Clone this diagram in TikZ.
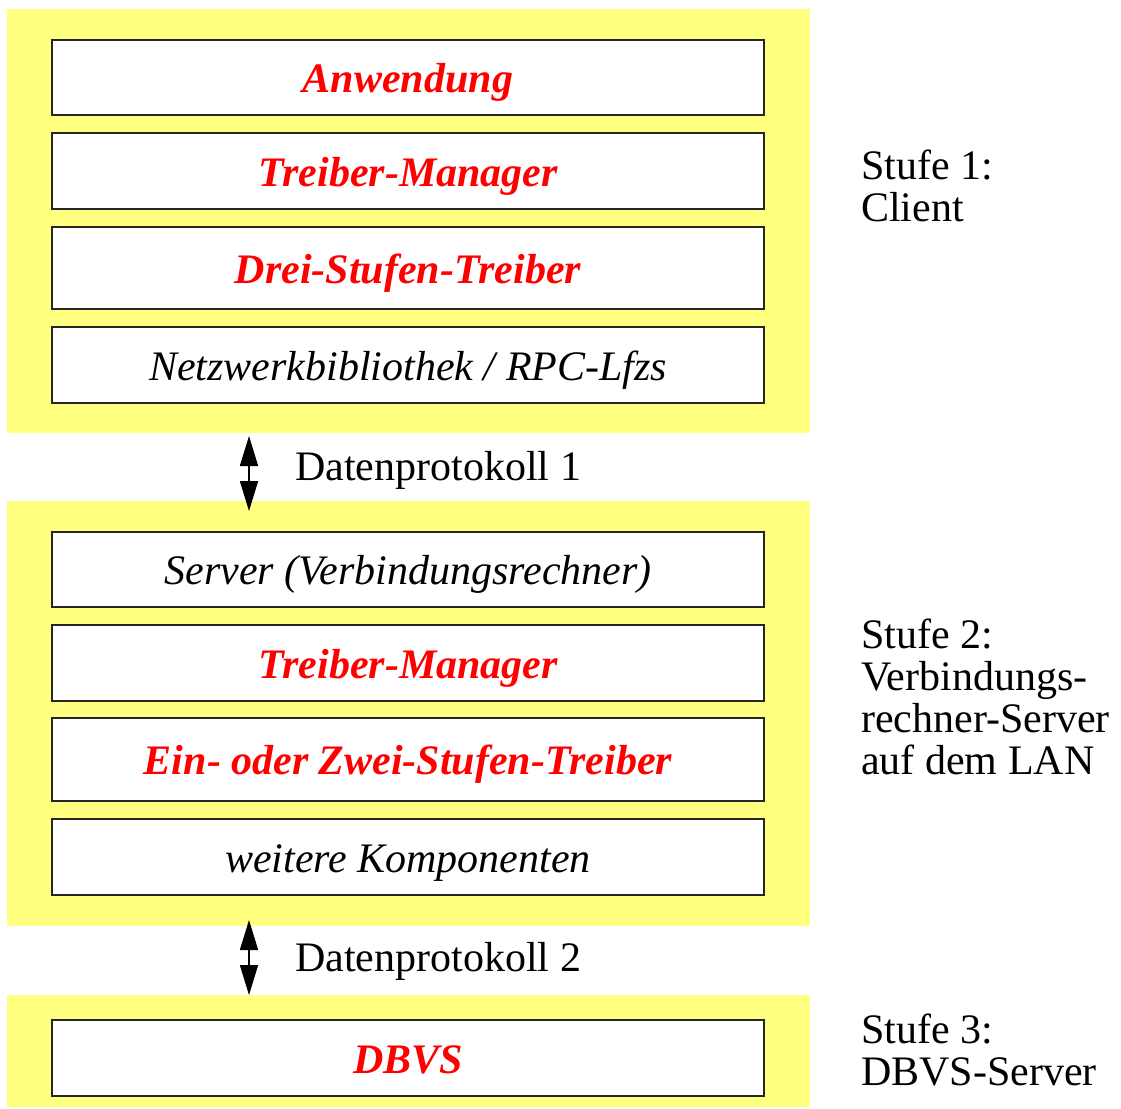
\documentclass[tikz,border=0pt]{standalone}
\usepackage{fontspec}
\setmainfont{Liberation Serif}
\usetikzlibrary{arrows.meta}
\definecolor{panelyellow}{RGB}{255,255,128}
\definecolor{labelred}{RGB}{255,0,0}
\tikzset{
  panel/.style={fill=panelyellow, draw=none},
  layerbox/.style={draw=black!85, line width=1.6pt, fill=white, rectangle,
    minimum width=712pt, minimum height=75pt, inner sep=0pt,
    text height=31pt, text depth=1pt,
    font=\fontsize{42}{42}\selectfont},
  keylayer/.style={layerbox, text=labelred, font=\fontsize{42}{42}\selectfont\bfseries\itshape},
  plainlayer/.style={layerbox, font=\fontsize{42}{42}\selectfont\itshape},
  sidetext/.style={anchor=base west, inner sep=0pt, font=\fontsize{42}{42}\selectfont},
  dblarrow/.style={line width=1.6pt, {Triangle[length=30pt,width=18pt]}-{Triangle[length=30pt,width=18pt]}}
}
\begin{document}
\begin{tikzpicture}[x=1pt,y=-1pt]
\useasboundingbox (0,0) rectangle (1121,1108);
% panels
\fill[panel] (7,9) rectangle (810,433);
\fill[panel] (7,501) rectangle (810,925.5);
\fill[panel] (7,995) rectangle (810,1107);
% level 1
\node[keylayer, minimum height=75pt] (anw) at (408,77.5) {Anwendung};
\node[keylayer, minimum height=76pt] (tm1) at (408,171) {Treiber-Manager};
\node[keylayer, minimum height=82pt] (dst) at (408,268) {Drei-Stufen-Treiber};
\node[plainlayer, minimum height=76pt] (net) at (408,365) {Netzwerkbibliothek / RPC-Lfzs};
% level 2
\node[plainlayer, minimum height=75pt] (srv) at (408,569.5) {Server (Verbindungsrechner)};
\node[keylayer, minimum height=76pt] (tm2) at (408,663) {Treiber-Manager};
\node[keylayer, minimum height=83pt] (ezt) at (408,759.5) {Ein- oder Zwei-Stufen-Treiber};
\node[plainlayer, minimum height=76pt] (wk) at (408,857) {weitere Komponenten};
% level 3
\node[keylayer, minimum height=76pt] (dbvs) at (408,1058) {DBVS};
% arrows
\coordinate (a1t) at (249,436);
\coordinate (a1b) at (249,511);
\coordinate (a2t) at (249,920);
\coordinate (a2b) at (249,995);
\draw[dblarrow] (a1t) -- (a1b);
\draw[dblarrow] (a2t) -- (a2b);
\node[sidetext] (dp1) at (295,480) {Datenprotokoll 1};
\node[sidetext] (dp2) at (295,971) {Datenprotokoll 2};
% side labels
\node[sidetext] (s1a) at (861,179) {Stufe 1:};
\node[sidetext] (s1b) at (861,221) {Client};
\node[sidetext] (s2a) at (861,648) {Stufe 2:};
\node[sidetext] (s2b) at (861,690) {Verbindungs-};
\node[sidetext] (s2c) at (861,732) {rechner-Server};
\node[sidetext] (s2d) at (861,774) {auf dem LAN};
\node[sidetext] (s3a) at (861,1043) {Stufe 3:};
\node[sidetext] (s3b) at (861,1085) {DBVS-Server};
\end{tikzpicture}
\end{document}
